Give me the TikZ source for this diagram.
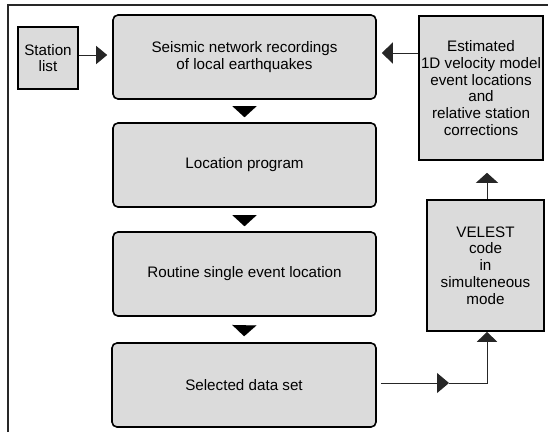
\documentclass[tikz,border=0pt]{standalone}
\usepackage{fontspec}
\setmainfont{Liberation Sans}
\usetikzlibrary{arrows.meta}
\definecolor{boxfill}{RGB}{219,219,219}
\definecolor{framecol}{RGB}{40,40,40}
\tikzset{
  box/.style={draw=black, fill=boxfill, line width=1.6pt, inner sep=0pt, align=center,
    font=\fontsize{15.2}{16.8}\selectfont},
  rbox/.style={box, rounded corners=5pt},
  tip/.style={line width=0.01pt, -{Triangle[width=24pt,length=11pt]}},
  conn/.style={line width=1pt, draw=black!85},
}
\begin{document}
\begin{tikzpicture}[x=1pt,y=-1pt]
\useasboundingbox[fill=white] (0,0) rectangle (548,432);
\draw[framecol, line width=1.5pt] (8,432) -- (8,5) -- (548,5);
% nodes
\node[box, minimum width=60pt, minimum height=62pt] (st) at (48,58) {Station\\list};
\node[rbox, minimum width=263pt, minimum height=84pt] (sei) at (244.5,57) {Seismic network recordings\\of local earthquakes};
\node[rbox, minimum width=263pt, minimum height=84pt] (loc) at (244.5,165) {Location program};
\node[rbox, minimum width=263pt, minimum height=84pt] (rou) at (244.5,274) {Routine single event location};
\node[rbox, minimum width=264pt, minimum height=84pt] (sel) at (244,385) {Selected data set};
\node[box, minimum width=124pt, minimum height=144pt] (est) at (481,88) {Estimated\\1D velocity model\\event locations\\and\\relative station\\corrections};
\node[box, minimum width=117pt, minimum height=131pt] (vel) at (485.5,265.5) {VELEST\\code\\in\\simulteneous\\mode};
\coordinate (m) at (449,383);
\coordinate (ea) at ([yshift=35pt]est.west);
% vertical arrowheads between main boxes
\draw[tip, shorten <=8pt, shorten >=5pt] (sei.south) -- (loc.north);
\draw[tip, shorten <=8pt, shorten >=5pt] (loc.south) -- (rou.north);
\draw[tip, shorten <=10pt, shorten >=6pt] (rou.south) -- (sel.north);
% side connectors
\draw[conn, -{Triangle[width=18pt,length=11pt]}, shorten >=5pt] ([yshift=3pt]st.east) -- ([yshift=2pt]sei.west);
\draw[conn, -{Triangle[width=21pt,length=11pt]}, shorten >=5pt] (ea) -- (sei.east |- ea);
\draw[conn, -{Triangle[width=22pt,length=10pt]}, shorten >=12pt] ([xshift=1.5pt]vel.north) -- ([xshift=6pt]est.south);
\draw[conn, -{Triangle[width=20pt,length=12pt]}, shorten <=4pt] ([yshift=2pt]sel.east) -- (m);
\draw[conn, -{Triangle[width=20pt,length=10pt]}] (m) -| ([xshift=1.5pt]vel.south);
\end{tikzpicture}
\end{document}
